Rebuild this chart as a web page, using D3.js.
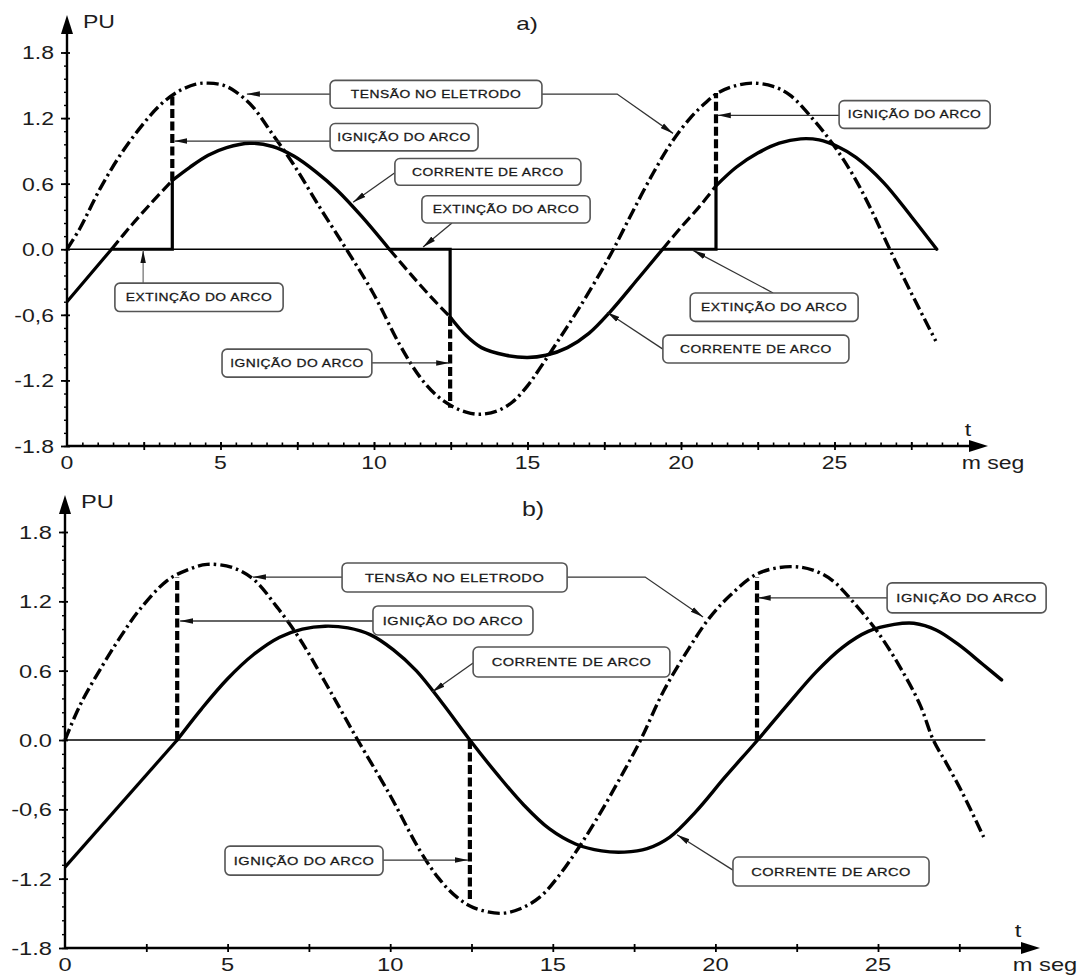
<!DOCTYPE html>
<html lang="pt">
<head>
<meta charset="UTF-8">
<title>Tensão e corrente de arco</title>
<script src="https://d3js.org/d3.v7.min.js"></script>
<style>
  body { margin: 0; background: #fff; }
  text { font-family: "Liberation Sans", Arial, sans-serif; fill: #1c1c1c; }
</style>
</head>
<body>
<svg id="chart" width="1084" height="975"></svg>
<script>
// ---- values (t in ms, values in PU) ----
const yTicks = [1.8, 1.2, 0.6, 0.0, -0.6, -1.2, -1.8];
const yTickLabels = ["1.8", "1.2", "0.6", "0.0", "-0,6", "-1.2", "-1.8"];
const xTicks = [0, 5, 10, 15, 20, 25];

// panel a) voltage on the electrode
const voltageA = [
  [0, 0], [0.42, 0.19], [1.07, 0.55], [1.73, 0.86], [2.38, 1.11], [3.0, 1.31], [3.6, 1.44],
  [4.2, 1.51], [4.6, 1.52], [5.1, 1.5], [5.5, 1.44], [6.06, 1.3], [6.7, 1.05], [7.37, 0.78],
  [8.24, 0.38], [9.1, 0], [9.97, -0.4], [10.85, -0.88], [11.5, -1.17], [12.05, -1.34],
  [12.57, -1.44], [13.0, -1.49], [13.45, -1.51], [14.0, -1.48], [14.5, -1.4], [15.0, -1.25],
  [15.4, -1.09], [16.06, -0.81], [16.7, -0.53], [17.36, -0.22], [17.8, 0], [18.4, 0.33],
  [19.1, 0.7], [19.7, 0.98], [20.3, 1.2], [20.8, 1.34], [21.2, 1.43], [21.7, 1.49], [22.3, 1.52],
  [23.0, 1.49], [23.55, 1.41], [24.3, 1.19], [24.95, 0.96], [25.6, 0.68], [26.2, 0.36],
  [26.8, 0], [27.5, -0.4], [28.3, -0.84]
];
// panel a) arc current: solid pieces (smooth arcs and straight steps) and dashed pieces
const currentAArcs = [
  [[3.43, 0.63], [4.0, 0.75], [4.6, 0.86], [5.2, 0.93], [5.96, 0.97], [6.7, 0.94], [7.4, 0.85],
   [8.1, 0.71], [8.8, 0.54], [9.6, 0.3], [10.5, 0]],
  [[12.48, -0.62], [13.0, -0.79], [13.5, -0.9], [14.3, -0.97], [15.0, -0.99], [15.6, -0.97],
   [16.3, -0.9], [17.0, -0.77], [17.7, -0.57], [18.6, -0.27], [19.4, 0]],
  [[21.14, 0.58], [21.8, 0.75], [22.5, 0.88], [23.2, 0.97], [23.9, 1.01], [24.5, 1.0],
   [25.1, 0.94], [25.7, 0.84], [26.6, 0.61], [27.5, 0.3], [28.33, 0]]
];
const currentASteps = [
  [[0, -0.48], [1.45, 0], [3.43, 0], [3.43, 0.63]],
  [[10.5, 0], [12.48, 0], [12.48, -0.62]],
  [[19.4, 0], [21.14, 0], [21.14, 0.58]]
];
const currentADashed = [
  [[1.45, 0], [2.1, 0.22], [2.8, 0.44], [3.43, 0.63]],
  [[10.5, 0], [11.2, -0.23], [11.9, -0.45], [12.48, -0.62]],
  [[19.4, 0], [20.0, 0.2], [20.6, 0.39], [21.14, 0.58]]
];
// ignition markers: [t, from, to]
const ignitionA = [[3.43, 0.63, 1.42], [12.48, -0.62, -1.45], [21.14, 0.58, 1.43]];

// panel b) voltage on the electrode
const voltageB = [
  [0, 0], [0.46, 0.3], [1.08, 0.61], [1.7, 0.89], [2.3, 1.13], [3.14, 1.38], [3.75, 1.47],
  [4.37, 1.52], [5.17, 1.49], [5.8, 1.39], [6.52, 1.15], [7.23, 0.87], [8.0, 0.5], [8.5, 0.25],
  [9.0, 0], [10.0, -0.48], [10.9, -0.95], [11.5, -1.2], [12.05, -1.36], [12.56, -1.45],
  [13.4, -1.5], [14.0, -1.46], [14.6, -1.36], [15.2, -1.17], [15.8, -0.93], [16.4, -0.66],
  [17.05, -0.34], [17.7, 0], [18.4, 0.42], [19.2, 0.8], [19.8, 1.05], [20.45, 1.25], [21.3, 1.44],
  [22.3, 1.5], [23.0, 1.47], [23.6, 1.38], [24.25, 1.19], [25.0, 0.93], [25.7, 0.62],
  [26.3, 0.3], [26.7, 0], [27.1, -0.2], [27.6, -0.46], [28.25, -0.84]
];
// panel b) arc current
const currentBLine = [[0, -1.1], [3.45, 0]];
const currentBArc = [
  [3.45, 0], [4.2, 0.27], [5.0, 0.53], [5.8, 0.74], [6.6, 0.89], [7.3, 0.96], [8.0, 0.985],
  [8.7, 0.97], [9.4, 0.91], [10.1, 0.78], [10.8, 0.6], [11.6, 0.32], [12.45, 0],
  [13.3, -0.3], [14.1, -0.56], [14.9, -0.77], [15.7, -0.9], [16.5, -0.96], [17.2, -0.97],
  [17.9, -0.94], [18.6, -0.84], [19.4, -0.62], [20.3, -0.32], [21.3, 0], [22.2, 0.3],
  [23.1, 0.59], [23.9, 0.8], [24.7, 0.94], [25.5, 1.0], [26.1, 1.01], [26.8, 0.95],
  [27.5, 0.82], [28.2, 0.66], [28.8, 0.52]
];
const ignitionB = [[3.45, 0, 1.41], [12.45, 0, -1.4], [21.28, 0, 1.41]];

// call-out boxes: box = [t0, t1, vTop, vBottom], arrows = polylines ending at the tip
const calloutsA = [
  { text: "TENSÃO NO ELETRODO", box: [8.57, 15.47, 1.545, 1.29],
    arrows: [[[8.57, 1.42], [5.86, 1.42]], [[15.47, 1.42], [17.92, 1.42], [19.74, 1.06]]] },
  { text: "IGNIÇÃO DO ARCO", box: [8.57, 13.39, 1.15, 0.9], arrows: [[[8.57, 0.99], [3.5, 0.99]]] },
  { text: "CORRENTE DE ARCO", box: [10.68, 16.74, 0.83, 0.585], arrows: [[[10.68, 0.7], [9.32, 0.43]]] },
  { text: "EXTINÇÃO DO ARCO", box: [11.56, 17.04, 0.49, 0.24], arrows: [[[12.54, 0.24], [11.6, 0.02]]] },
  { text: "EXTINÇÃO DO ARCO", box: [1.56, 7.04, -0.31, -0.57], arrows: [[[2.48, -0.31], [2.48, -0.01]]], grey: true },
  { text: "IGNIÇÃO DO ARCO", box: [5.05, 9.93, -0.914, -1.17], arrows: [[[9.93, -1.04], [12.45, -1.04]]] },
  { text: "IGNIÇÃO DO ARCO", box: [25.15, 30.07, 1.36, 1.106], arrows: [[[25.15, 1.225], [21.2, 1.225]]] },
  { text: "EXTINÇÃO DO ARCO", box: [20.3, 25.77, -0.4, -0.66], arrows: [[[23.0, -0.4], [20.39, -0.01]]] },
  { text: "CORRENTE DE ARCO", box: [19.41, 25.47, -0.786, -1.04], arrows: [[[19.41, -0.914], [17.59, -0.576]]] }
];
const calloutsB = [
  { text: "TENSÃO NO ELETRODO", box: [8.52, 15.44, 1.532, 1.281],
    arrows: [[[8.52, 1.41], [5.78, 1.41]], [[15.44, 1.41], [17.84, 1.41], [19.62, 1.065]]] },
  { text: "IGNIÇÃO DO ARCO", box: [9.47, 14.39, 1.16, 0.909], arrows: [[[9.47, 1.03], [3.54, 1.03]]] },
  { text: "CORRENTE DE ARCO", box: [12.55, 18.6, 0.805, 0.545], arrows: [[[12.55, 0.667], [11.29, 0.416]]] },
  { text: "IGNIÇÃO DO ARCO", box: [4.92, 9.78, -0.918, -1.169], arrows: [[[9.78, -1.039], [12.39, -1.039]]] },
  { text: "IGNIÇÃO DO ARCO", box: [25.28, 30.17, 1.36, 1.1], arrows: [[[25.28, 1.23], [21.3, 1.23]]] },
  { text: "CORRENTE DE ARCO", box: [20.54, 26.57, -1.013, -1.264], arrows: [[[20.54, -1.126], [18.82, -0.82]]] }
];

// ---- layout ----
const STRETCH = 1.28; // the figure's lettering is drawn wide
const svg = d3.select("#chart");

const defs = svg.append("defs");
defs.append("marker")
  .attr("id", "head")
  .attr("markerUnits", "userSpaceOnUse")
  .attr("markerWidth", 14).attr("markerHeight", 8)
  .attr("refX", 13).attr("refY", 4)
  .attr("orient", "auto")
  .append("path")
  .attr("d", "M0,1.2 L13,4 L0,6.8 Z")
  .attr("fill", "#111");

function label(g, txt, x, y, size, anchor, stretch) {
  return g.append("text")
    .attr("transform", `translate(${x},${y}) scale(${stretch || STRETCH},1)`)
    .attr("text-anchor", anchor || "middle")
    .attr("font-size", size)
    .text(txt);
}

function drawPanel(p) {
  const x = d3.scaleLinear().domain([0, 25]).range([p.x0, p.x25]);
  const y = d3.scaleLinear().domain([-1.8, 1.8]).range([p.yBot, p.yTop]);
  const g = svg.append("g");
  const smooth = d3.line().x(d => x(d[0])).y(d => y(d[1])).curve(d3.curveCatmullRom.alpha(0.5));
  const straight = d3.line().x(d => x(d[0])).y(d => y(d[1]));

  // zero line
  g.append("line")
    .attr("x1", x(0)).attr("x2", x(p.zeroEnd))
    .attr("y1", y(0)).attr("y2", y(0))
    .attr("stroke", "#000").attr("stroke-width", 1.3);

  // y axis: minor ticks, major ticks and labels
  g.append("g").attr("transform", `translate(${x(0)},0)`)
    .call(d3.axisLeft(y).tickValues(d3.range(-15, 16).map(k => k * 0.12)).tickSize(3).tickFormat(""))
    .call(s => s.select(".domain").remove())
    .selectAll("line").attr("stroke-width", 1.4);
  const ya = g.append("g").attr("transform", `translate(${x(0)},0)`)
    .call(d3.axisLeft(y).tickValues(yTicks).tickSize(6).tickFormat((d, i) => yTickLabels[i]))
    .call(s => s.select(".domain").remove());
  ya.selectAll("line").attr("stroke-width", 1.8).attr("x2", -6).attr("x1", 3);
  ya.selectAll("text")
    .attr("x", -13 / STRETCH).attr("dy", "0.36em")
    .attr("transform", `scale(${STRETCH},1)`)
    .attr("font-size", p.font).attr("font-family", "Liberation Sans, Arial, sans-serif")
    .attr("fill", "#1c1c1c");

  // x axis ticks
  g.append("g").attr("transform", `translate(0,${y(-1.8)})`)
    .call(d3.axisTop(x).tickValues(p.minorX).tickSize(3.5).tickFormat(""))
    .call(s => s.select(".domain").remove())
    .selectAll("line").attr("stroke-width", 1.6);
  g.append("g").attr("transform", `translate(0,${y(-1.8)})`)
    .call(d3.axisBottom(x).tickValues(d3.range(1, 12).map(k => k * 2.5)).tickSize(4).tickFormat(""))
    .call(s => s.select(".domain").remove())
    .selectAll("line").attr("stroke-width", 1.8).attr("y1", -4);
  xTicks.forEach(t => label(g, String(t), x(t), p.yBot + 23, p.font));

  // axis lines with arrow heads
  g.append("line").attr("x1", x(0)).attr("x2", p.xTip - 14)
    .attr("y1", y(-1.8)).attr("y2", y(-1.8)).attr("stroke", "#000").attr("stroke-width", 2.4);
  g.append("path").attr("fill", "#000")
    .attr("d", `M${p.xTip},${y(-1.8)} L${p.xTip - 19},${y(-1.8) - 6} L${p.xTip - 19},${y(-1.8) + 6} Z`);
  g.append("line").attr("x1", x(0)).attr("x2", x(0))
    .attr("y1", y(-1.8)).attr("y2", p.yTip + 14).attr("stroke", "#000").attr("stroke-width", 2.4);
  g.append("path").attr("fill", "#000")
    .attr("d", `M${x(0)},${p.yTip} L${x(0) - 6},${p.yTip + 19} L${x(0) + 6},${p.yTip + 19} Z`);

  label(g, "PU", x(0) + 16, p.yTip + 13, p.font, "start");
  label(g, p.title, p.titleX, p.titleY, p.font + 1);
  label(g, "t", p.tX, p.tY, p.font);
  label(g, "m seg", p.msX, p.msY, p.font);

  // voltage
  g.append("path").attr("d", smooth(p.voltage))
    .attr("fill", "none").attr("stroke", "#000").attr("stroke-width", 3.4)
    .attr("stroke-dasharray", "12,4,2.5,4");

  // current
  (p.dashed || []).forEach(seg => g.append("path").attr("d", smooth(seg))
    .attr("fill", "none").attr("stroke", "#000").attr("stroke-width", 3.2)
    .attr("stroke-dasharray", "11,4.5"));
  (p.steps || []).forEach(seg => g.append("path").attr("d", straight(seg))
    .attr("fill", "none").attr("stroke", "#000").attr("stroke-width", 3.2)
    .attr("stroke-linejoin", "miter"));
  p.arcs.forEach(seg => g.append("path").attr("d", smooth(seg))
    .attr("fill", "none").attr("stroke", "#000").attr("stroke-width", 3.4)
    .attr("stroke-linecap", "round"));

  // ignition instants
  p.ignition.forEach(d => g.append("line")
    .attr("x1", x(d[0])).attr("x2", x(d[0]))
    .attr("y1", y(d[1])).attr("y2", y(d[2]))
    .attr("stroke", "#000").attr("stroke-width", 4.2)
    .attr("stroke-dasharray", "9,3.5"));

  // call-outs
  p.callouts.forEach(c => {
    c.arrows.forEach(a => g.append("path").attr("d", straight(a))
      .attr("fill", "none").attr("stroke", c.grey ? "#777" : "#333").attr("stroke-width", 1.3)
      .attr("marker-end", "url(#head)"));
    const [t0, t1, v0, v1] = c.box;
    g.append("rect")
      .attr("x", x(t0)).attr("y", y(v0))
      .attr("width", x(t1) - x(t0)).attr("height", y(v1) - y(v0))
      .attr("rx", 5).attr("fill", "#fff").attr("stroke", "#555").attr("stroke-width", 1.6);
    label(g, c.text, (x(t0) + x(t1)) / 2, (y(v0) + y(v1)) / 2 + p.boxFont * 0.36, p.boxFont)
      .attr("letter-spacing", 0.4)
      .attr("fill", "#111").attr("stroke", "#111").attr("stroke-width", 0.25);
  });
}

drawPanel({
  x0: 67, x25: 834.5, yTop: 52.5, yBot: 446, xTip: 988, yTip: 15, zeroEnd: 28.33,
  minorX: d3.range(1, 59).map(k => k * 0.5), font: 18, boxFont: 10.8,
  title: "a)", titleX: 527, titleY: 30, tX: 968, tY: 436, msX: 993, msY: 469,
  voltage: voltageA, arcs: currentAArcs, steps: currentASteps, dashed: currentADashed,
  ignition: ignitionA, callouts: calloutsA
});
drawPanel({
  x0: 65, x25: 878, yTop: 532, yBot: 948, xTip: 1040, yTip: 495, zeroEnd: 28.3,
  minorX: [], font: 18.5, boxFont: 11.4,
  title: "b)", titleX: 533, titleY: 516, tX: 1018, tY: 937, msX: 1045, msY: 971,
  voltage: voltageB, arcs: [currentBArc], steps: [currentBLine], dashed: [],
  ignition: ignitionB, callouts: calloutsB
});
</script>
</body>
</html>
